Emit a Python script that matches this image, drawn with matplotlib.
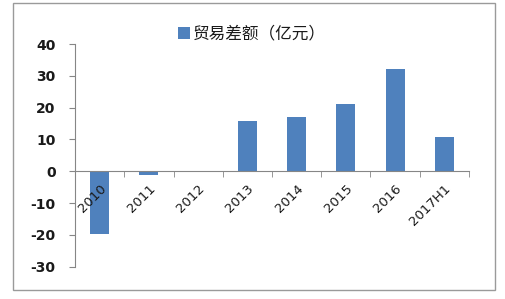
import numpy as np
import matplotlib
matplotlib.use("Agg")
import matplotlib.pyplot as plt
from matplotlib.patches import Rectangle

plt.rcParams["font.family"] = ["Noto Sans CJK SC", "DejaVu Sans"]

# Trade balance data (100 million yuan)
categories = ["2010", "2011", "2012", "2013", "2014", "2015", "2016", "2017H1"]
values = [-19.8, -1.1, 0.0, 15.8, 16.9, 21.0, 32.2, 10.9]
series_label = "贸易差额（亿元）"
yticks = [-30, -20, -10, 0, 10, 20, 30, 40]

BAR_COLOR = "#4F81BD"
AXIS_COLOR = "#868686"
TEXT_COLOR = "#1a1a1a"

fig = plt.figure(figsize=(5.06, 2.99), dpi=100)
fig.patches.append(Rectangle((13 / 506, 9 / 299), 482 / 506, 287 / 299,
                             transform=fig.transFigure, fill=False,
                             edgecolor="#9a9a9a", linewidth=1.0))

ax = fig.add_axes([75 / 506, 32.3 / 299, 394 / 506, 222.7 / 299])
x = np.arange(len(categories))
ax.bar(x, values, width=0.39, color=BAR_COLOR, label=series_label, zorder=1)
ax.set_axisbelow(False)

ax.set_xlim(-0.5, len(categories) - 0.5)
ax.set_ylim(-30, 40)
ax.set_yticks(yticks)
ax.set_yticklabels([str(t) for t in yticks], fontsize=10, fontweight="bold",
                   color=TEXT_COLOR, family="DejaVu Sans")

for s in ["top", "right"]:
    ax.spines[s].set_visible(False)
ax.spines["bottom"].set_position(("data", 0))
ax.spines["bottom"].set_color(AXIS_COLOR)
ax.spines["left"].set_color(AXIS_COLOR)

ax.set_xticks(x)
ax.set_xticklabels(categories, rotation=45, ha="right", va="top",
                   rotation_mode="anchor", fontsize=9.5, color=TEXT_COLOR,
                   family="DejaVu Sans")
ax.set_xticks(np.arange(len(categories) + 1) - 0.5, minor=True)
ax.tick_params(axis="x", which="major", length=0, pad=8)
ax.tick_params(axis="x", which="minor", length=4, color=AXIS_COLOR, direction="out")
ax.tick_params(axis="y", length=4, color=AXIS_COLOR, pad=10)

leg = fig.legend(loc="center", bbox_to_anchor=(0.498, 0.886), frameon=False,
                 fontsize=12, handlelength=0.7, handleheight=0.7,
                 handletextpad=0.2)
for t in leg.get_texts():
    t.set_color(TEXT_COLOR)

fig.savefig("out.png", dpi=100)
